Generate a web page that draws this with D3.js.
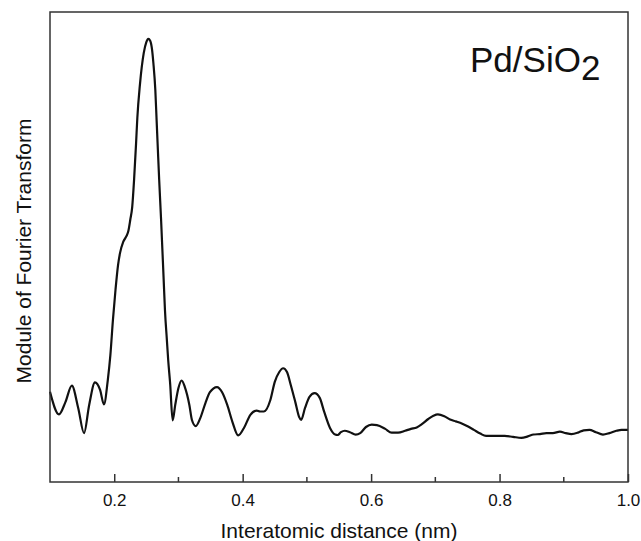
<!DOCTYPE html>
<html>
<head>
<meta charset="utf-8">
<script src="https://cdn.jsdelivr.net/npm/d3@7"></script>
<style>
  body { margin: 0; background: #fff; }
  text { font-family: "Liberation Sans", Arial, sans-serif; fill: #111; }
</style>
</head>
<body>
<svg width="641" height="541"></svg>
<script>
// distance (nm) and FT magnitude (arbitrary units)
var distance = [0.100, 0.114, 0.124, 0.134, 0.144, 0.153, 0.161, 0.170, 0.178, 0.184,
  0.190, 0.194, 0.198, 0.202, 0.206, 0.209, 0.214, 0.219, 0.222, 0.225,
  0.228, 0.231, 0.234, 0.236, 0.240, 0.246, 0.250, 0.253, 0.256, 0.259,
  0.261, 0.264, 0.266, 0.268, 0.270, 0.273, 0.277, 0.279, 0.282, 0.284,
  0.287, 0.291, 0.295, 0.300, 0.305, 0.310, 0.317, 0.321, 0.327, 0.334,
  0.342, 0.349, 0.360, 0.368, 0.376, 0.384, 0.393, 0.402, 0.412, 0.422,
  0.427, 0.433, 0.443, 0.450, 0.457, 0.463, 0.469, 0.475, 0.482, 0.488,
  0.491, 0.497, 0.504, 0.512, 0.520, 0.527, 0.536, 0.544, 0.548, 0.553,
  0.559, 0.567, 0.576, 0.583, 0.592, 0.601, 0.609, 0.622, 0.632, 0.642,
  0.653, 0.662, 0.671, 0.679, 0.689, 0.697, 0.704, 0.714, 0.723, 0.732,
  0.742, 0.751, 0.760, 0.770, 0.779, 0.793, 0.808, 0.821, 0.834, 0.844,
  0.853, 0.863, 0.873, 0.883, 0.894, 0.903, 0.912, 0.922, 0.931, 0.940,
  0.950, 0.961, 0.971, 0.982, 0.990, 1.000];

var magnitude = [19.2, 14.4, 17.0, 20.5, 15.7, 10.4, 16.4, 21.2, 19.6, 16.5,
  21.7, 27.0, 34.5, 40.9, 46.2, 48.7, 51.1, 52.3, 53.4, 55.8,
  58.5, 64.5, 72.0, 77.5, 84.5, 91.3, 93.6, 94.3, 93.9, 91.9,
  89.1, 83.4, 77.0, 70.6, 64.3, 55.7, 43.0, 36.6, 30.2, 26.0,
  21.1, 13.1, 16.4, 20.0, 21.6, 20.2, 16.4, 13.2, 11.9, 13.6,
  16.8, 19.1, 20.2, 19.1, 16.4, 12.8, 9.9, 11.5, 14.3, 15.2,
  15.0, 15.0, 17.4, 21.3, 23.4, 24.2, 23.4, 20.6, 17.0, 13.8,
  13.2, 15.7, 18.1, 18.9, 17.9, 14.9, 11.5, 10.1, 10.0, 10.6,
  10.9, 10.6, 10.1, 10.4, 11.7, 12.2, 12.1, 11.3, 10.5, 10.5,
  10.9, 11.3, 11.6, 12.3, 13.4, 14.1, 14.4, 14.0, 13.3, 12.9,
  12.4, 11.8, 11.1, 10.3, 9.8, 9.8, 9.8, 9.6, 9.4, 9.7,
  10.1, 10.2, 10.4, 10.4, 10.7, 10.4, 10.2, 10.5, 11.0, 11.1,
  10.6, 10.1, 10.4, 10.9, 11.1, 11.1];

var majorTicks = [0.2, 0.4, 0.6, 0.8, 1.0];
var minorTicks = [0.3, 0.5, 0.7, 0.9];

var svg = d3.select("svg"),
  margin = { top: 12, right: 13, bottom: 59, left: 50 },
  width = svg.attr("width") - margin.left - margin.right,
  height = svg.attr("height") - margin.top - margin.bottom;

var x = d3.scaleLinear().domain([0.1, 1.0]).range([0, width]),
  y = d3.scaleLinear().domain([0, 100]).range([height, 0]);

var data = distance.map((d, i) => ({ x: d, y: magnitude[i] }));

var g = svg.append("g")
  .attr("transform", `translate(${margin.left},${margin.top})`);

var line = d3.line()
  .x(d => x(d.x))
  .y(d => y(d.y))
  .curve(d3.curveMonotoneX);

g.append("path")
  .datum(data)
  .attr("fill", "none")
  .attr("stroke", "#111")
  .attr("stroke-width", 2.2)
  .attr("stroke-linejoin", "round")
  .attr("d", line);

// frame
g.append("rect")
  .attr("width", width)
  .attr("height", height)
  .attr("fill", "none")
  .attr("stroke", "#333")
  .attr("stroke-width", 1.5);

// bottom axis, ticks pointing inward
var xAxis = g.append("g")
  .attr("transform", `translate(0,${height})`)
  .call(d3.axisBottom(x).tickValues(majorTicks).tickSize(-8).tickPadding(12)
    .tickFormat(d3.format(".1f")));
xAxis.select(".domain").remove();
xAxis.selectAll("line").attr("stroke", "#333").attr("stroke-width", 1.5);
xAxis.selectAll("text").style("font-size", "17px").attr("fill", "#111")
  .attr("font-family", "Liberation Sans, Arial, sans-serif");

g.append("g")
  .attr("transform", `translate(0,${height})`)
  .selectAll("line")
  .data(minorTicks)
  .enter().append("line")
  .attr("x1", d => x(d)).attr("x2", d => x(d))
  .attr("y1", 0).attr("y2", -5)
  .attr("stroke", "#333").attr("stroke-width", 1.5);

svg.append("text")
  .attr("x", margin.left + width / 2)
  .attr("y", 538)
  .attr("text-anchor", "middle")
  .style("font-size", "21px")
  .text("Interatomic distance (nm)");

svg.append("text")
  .attr("transform", `translate(31,${margin.top + height / 2 + 4}) rotate(-90)`)
  .attr("text-anchor", "middle")
  .style("font-size", "21px")
  .text("Module of Fourier Transform");

var label = svg.append("text")
  .attr("x", 470)
  .attr("y", 72)
  .style("font-size", "35px");
label.append("tspan").text("Pd/SiO");
label.append("tspan").attr("dy", 8).text("2");
</script>
</body>
</html>
